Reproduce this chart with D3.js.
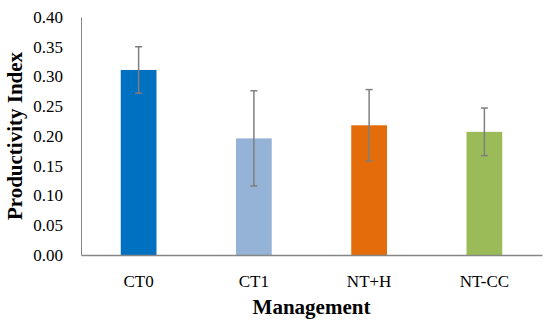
<!DOCTYPE html>
<html><head><meta charset="utf-8">
<script src="https://cdn.jsdelivr.net/npm/d3@7"></script>
<style>
html,body{margin:0;padding:0;background:#fff;}
svg text{font-family:"Liberation Serif","Times New Roman",serif;fill:#000;}
</style></head>
<body>
<svg id="chart" width="550" height="328"></svg>
<script>
const categories = ["CT0", "CT1", "NT+H", "NT-CC"];
const values = [0.311, 0.196, 0.218, 0.207];
const errors = [0.039, 0.080, 0.060, 0.040];
const colors = ["#0070C0", "#95B3D7", "#E46C0A", "#9BBB59"];
const yTicks = [0, 0.05, 0.10, 0.15, 0.20, 0.25, 0.30, 0.35, 0.40];

const svg = d3.select("#chart");
const m = {left: 81, right: 8, top: 17, bottom: 73};
const W = 550, H = 328;
const x = d3.scaleBand().domain(categories).range([m.left, W - m.right]).paddingInner(0.69).paddingOuter(0.345);
const y = d3.scaleLinear().domain([0, 0.40]).range([H - m.bottom, m.top]);

// y axis
const ya = svg.append("g").attr("transform", `translate(${m.left},0)`)
  .call(d3.axisLeft(y).tickValues(yTicks).tickFormat(d3.format(".2f")).tickSize(0).tickPadding(18));
ya.select(".domain").attr("stroke", "#868686").attr("stroke-width", 1);
ya.selectAll("text").style("font-size", "17px").style("font-family", "Liberation Serif");

// bars
svg.append("g").selectAll("rect").data(categories).join("rect")
  .attr("x", d => x(d)).attr("width", x.bandwidth())
  .attr("y", (d, i) => y(values[i])).attr("height", (d, i) => y(0) - y(values[i]))
  .attr("fill", (d, i) => colors[i]);

// error bars
const eg = svg.append("g").attr("stroke", "#7f7f7f").attr("stroke-width", 1.5);
categories.forEach((c, i) => {
  const cx = x(c) + x.bandwidth() / 2;
  const top = y(values[i] + errors[i]), bot = y(values[i] - errors[i]);
  eg.append("line").attr("x1", cx).attr("x2", cx).attr("y1", top).attr("y2", bot);
  eg.append("line").attr("x1", cx - 3.5).attr("x2", cx + 3.5).attr("y1", top).attr("y2", top);
  eg.append("line").attr("x1", cx - 3.5).attr("x2", cx + 3.5).attr("y1", bot).attr("y2", bot);
});

// x axis
const xa = svg.append("g").attr("transform", `translate(0,${y(0)})`)
  .call(d3.axisBottom(x).tickSize(0).tickPadding(20));
xa.select(".domain").attr("stroke", "#868686").attr("stroke-width", 1.5);
xa.selectAll("text").style("font-size", "17px").style("font-family", "Liberation Serif");

// axis titles
svg.append("text").attr("x", (m.left + W - m.right) / 2).attr("y", 314)
  .attr("text-anchor", "middle").style("font-size", "21px").style("font-weight", "bold").text("Management");
svg.append("text").attr("transform", "translate(22,136) rotate(-90)")
  .attr("text-anchor", "middle").style("font-size", "21px").style("font-weight", "bold").text("Productivity Index");
</script>
</body></html>
